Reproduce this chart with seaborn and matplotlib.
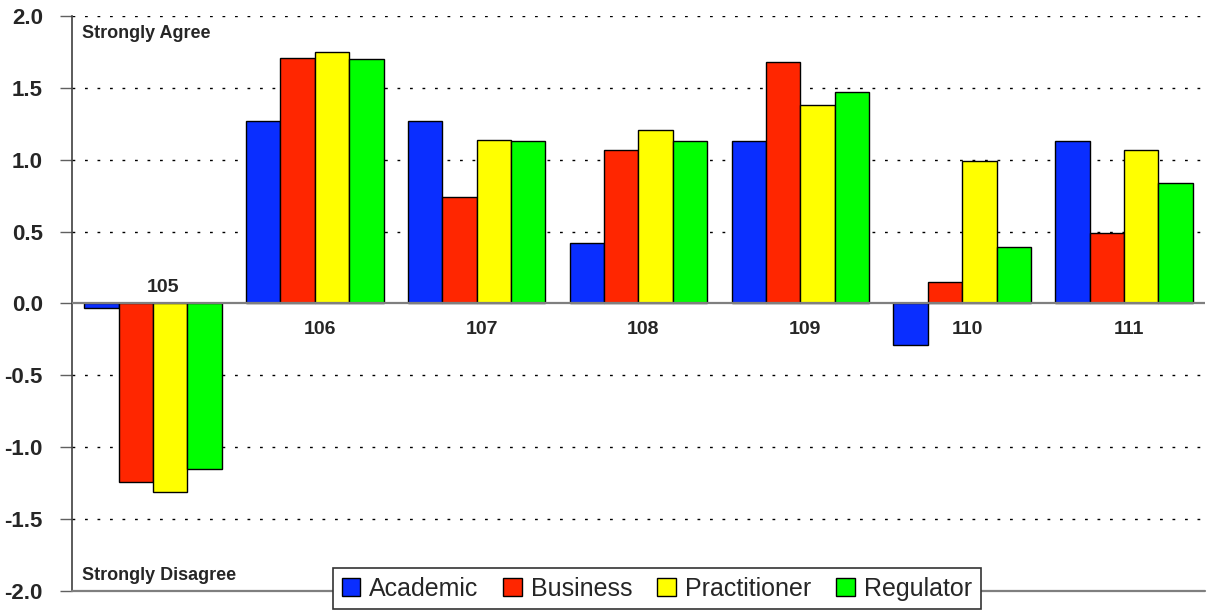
import matplotlib
matplotlib.use("Agg")
import matplotlib.pyplot as plt
from matplotlib.patches import Patch
import seaborn as sns
import pandas as pd

items = ["105", "106", "107", "108", "109", "110", "111"]
groups = ["Academic", "Business", "Practitioner", "Regulator"]
academic = [-0.03, 1.27, 1.27, 0.42, 1.13, -0.29, 1.13]
business = [-1.24, 1.71, 0.74, 1.07, 1.68, 0.15, 0.49]
practitioner = [-1.31, 1.75, 1.14, 1.21, 1.38, 0.99, 1.07]
regulator = [-1.15, 1.70, 1.13, 1.13, 1.47, 0.39, 0.84]
colors = ["#0A2EFF", "#FF2600", "#FFFF00", "#00FF00"]
yticks = [-2.0, -1.5, -1.0, -0.5, 0.0, 0.5, 1.0, 1.5, 2.0]

series = [academic, business, practitioner, regulator]
df = pd.DataFrame(
    [(it, g, vals[i]) for g, vals in zip(groups, series) for i, it in enumerate(items)],
    columns=["item", "group", "score"],
)

sns.set_style("white")
plt.rcParams["font.family"] = ["Liberation Sans", "DejaVu Sans"]

fig = plt.figure(figsize=(12.11, 6.13), dpi=100)
ax = fig.add_axes([0.0595, 0.0359, 0.9355, 0.9381])

sns.barplot(
    data=df, x="item", y="score", hue="group", order=items, hue_order=groups,
    palette=colors, saturation=1, width=0.85, edgecolor="black", linewidth=1,
    legend=False, ax=ax, zorder=3,
)

ax.set_xlim(-0.5, len(items) - 0.5)
ax.set_ylim(-2.0, 2.0)
ax.set_yticks(yticks)
ax.set_yticklabels([f"{v:.1f}" for v in yticks], fontsize=16, fontweight="bold")
ax.set_xticks([])
ax.set_xlabel("")
ax.set_ylabel("")

# dotted horizontal gridlines
for v in yticks:
    if v in (0.0, -2.0):
        continue
    ax.axhline(v, color="black", lw=1, linestyle=(0, (2, 7)), zorder=1)
ax.axhline(0.0, color="#7f7f7f", lw=1.6, zorder=4)
ax.axhline(-2.0, color="#7f7f7f", lw=1.6, zorder=4, clip_on=False)

for s in ["top", "right", "bottom"]:
    ax.spines[s].set_visible(False)
ax.spines["left"].set_color("#404040")
ax.spines["left"].set_linewidth(1.2)
ax.tick_params(axis="y", left=True, length=9, width=1, color="#606060", pad=12)

# item labels next to the zero line
for i, it in enumerate(items):
    vals = [s[i] for s in series]
    if max(vals) <= 0.05:
        ax.text(i + 0.06, 0.05, it, ha="center", va="bottom",
                fontsize=14, fontweight="bold", zorder=5)
    else:
        ax.text(i + 0.03, -0.12, it, ha="center", va="top",
                fontsize=14, fontweight="bold", zorder=5)

ax.text(0.009, 0.985, "Strongly Agree", transform=ax.transAxes, ha="left", va="top",
        fontsize=13, fontweight="bold")
ax.text(0.009, 0.012, "Strongly Disagree", transform=ax.transAxes, ha="left", va="bottom",
        fontsize=13, fontweight="bold")

handles = [Patch(facecolor=c, edgecolor="black", linewidth=1) for c in colors]
leg = ax.legend(
    handles, groups, loc="upper center", bbox_to_anchor=(0.516, 0.04), ncol=4,
    frameon=True, fancybox=False, edgecolor="#333333", framealpha=1,
    prop={"family": "Liberation Sans", "size": 18},
    handlelength=0.75, handleheight=0.75, handletextpad=0.35, columnspacing=1.0,
    borderpad=0.35, borderaxespad=0,
)
leg.get_frame().set_linewidth(1.2)
leg.set_zorder(10)
leg.set_clip_on(False)

fig.savefig("out.png", dpi=100)
